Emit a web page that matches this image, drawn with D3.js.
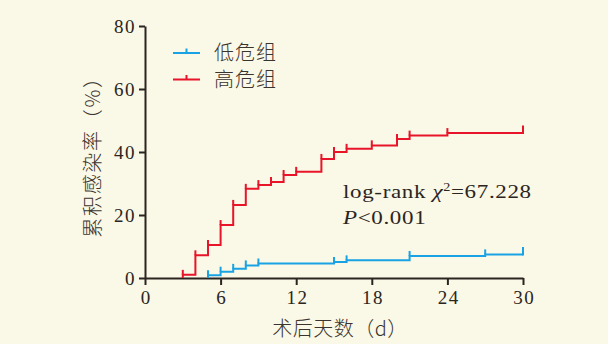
<!DOCTYPE html>
<html>
<head>
<meta charset="utf-8">
<script src="https://cdn.jsdelivr.net/npm/d3@7"></script>
<style>
  html, body { margin: 0; padding: 0; background: #faf8e6; }
  svg { display: block; }
</style>
</head>
<body>
<svg id="chart" width="608" height="344"></svg>
<script>
// Cumulative infection rate (%) by postoperative day
const lowDays   = [5, 6, 7, 8, 9, 15, 16, 21, 27];
const lowRates  = [0.9, 2.0, 2.9, 4.0, 4.6, 5.1, 5.6, 7.0, 7.5];
const highDays  = [3, 4, 5, 6, 7, 8, 9, 10, 11, 12, 14, 15, 16, 18, 20, 21, 24];
const highRates = [1.0, 7.2, 10.5, 16.8, 23.2, 28.3, 29.5, 30.5, 32.7, 33.7, 37.8, 40.0, 41.0, 42.1, 44.1, 45.2, 46.0];
const endDay = 30;

const groupNames = ["低危组", "高危组"];
const groupColors = ["#19a3e4", "#e8142a"];
const xTicks = [0, 6, 12, 18, 24, 30];
const yTicks = [0, 20, 40, 60, 80];
const xTitle = "术后天数（d）";
const yTitle = "累积感染率（%）";
const statLine1 = ["log-rank ", "χ", "2", "=67.228"];
const statLine2 = ["P", "<0.001"];

const svg = d3.select("#chart");
const axisColor = "#2b2522";
const textColor = "#3a3430";
const serif = "'Liberation Serif', 'Times New Roman', serif";
const cjk = "'Noto Sans CJK SC', sans-serif";

const x = d3.scaleLinear().domain([0, 30]).range([145, 523]);
const y = d3.scaleLinear().domain([0, 80]).range([278, 26]);

// Axes
const xAxis = svg.append("g")
  .attr("transform", `translate(0,${y(0)})`)
  .call(d3.axisBottom(x).tickValues(xTicks).tickSize(7).tickSizeOuter(0).tickPadding(6));
const yAxis = svg.append("g")
  .attr("transform", `translate(${x(0)},0)`)
  .call(d3.axisLeft(y).tickValues(yTicks).tickSize(6).tickSizeOuter(0).tickPadding(3));

[xAxis, yAxis].forEach(g => {
  g.select(".domain").attr("stroke", axisColor).attr("stroke-width", 2);
  g.selectAll(".tick line").attr("stroke", axisColor).attr("stroke-width", 2);
  g.selectAll(".tick text")
    .attr("fill", axisColor)
    .style("font-family", serif)
    .style("font-size", "19px")
    .style("letter-spacing", "1.5px");
});
xAxis.selectAll(".tick text").attr("dx", "0.75px");

// Step curves with censor ticks
function drawCurve(days, rates, color) {
  const pts = [[days[0], 0]];
  days.forEach((d, i) => pts.push([d, rates[i]]));
  pts.push([endDay, rates[rates.length - 1]]);
  const line = d3.line()
    .x(p => x(p[0]))
    .y(p => y(p[1]))
    .curve(d3.curveStepAfter);
  svg.append("path")
    .attr("d", line(pts))
    .attr("fill", "none")
    .attr("stroke", color)
    .attr("stroke-width", 2);
  svg.append("g").selectAll("line")
    .data(days.map((d, i) => [d, rates[i]]))
    .join("line")
    .attr("x1", p => x(p[0])).attr("x2", p => x(p[0]))
    .attr("y1", p => y(p[1])).attr("y2", p => y(p[1]) - 5)
    .attr("stroke", color).attr("stroke-width", 2);
  const last = rates[rates.length - 1];
  svg.append("line")
    .attr("x1", x(endDay)).attr("x2", x(endDay))
    .attr("y1", y(last) + 1).attr("y2", y(last) - 7.5)
    .attr("stroke", color).attr("stroke-width", 2);
}
drawCurve(lowDays, lowRates, groupColors[0]);
drawCurve(highDays, highRates, groupColors[1]);

// Legend
const legend = svg.append("g");
groupNames.forEach((name, i) => {
  const ly = 53 + i * 26.5;
  legend.append("line")
    .attr("x1", 173).attr("x2", 200).attr("y1", ly).attr("y2", ly)
    .attr("stroke", groupColors[i]).attr("stroke-width", 2);
  legend.append("line")
    .attr("x1", 186.5).attr("x2", 186.5).attr("y1", ly).attr("y2", ly - 4.5)
    .attr("stroke", groupColors[i]).attr("stroke-width", 2);
  legend.append("text")
    .attr("x", 214).attr("y", ly + 7)
    .attr("fill", textColor)
    .style("font-family", cjk)
    .style("font-weight", 300)
    .style("font-size", "20px")
    .style("letter-spacing", "1px")
    .text(name);
});

// Axis titles
svg.append("text")
  .attr("x", 340).attr("y", 336)
  .attr("text-anchor", "middle")
  .attr("fill", textColor)
  .style("font-family", cjk)
  .style("font-weight", 300)
  .style("font-size", "20px")
  .style("letter-spacing", "0.5px")
  .text(xTitle);

svg.append("text")
  .attr("transform", "translate(100,152) rotate(-90)")
  .attr("text-anchor", "middle")
  .attr("fill", textColor)
  .style("font-family", cjk)
  .style("font-weight", 300)
  .style("font-size", "20px")
  .style("letter-spacing", "1.7px")
  .text(yTitle);

// Test statistic (wide serif setting)
const statFont = text => text
  .attr("fill", axisColor)
  .style("font-family", serif)
  .style("font-size", "19.5px")
  .style("letter-spacing", "0.55px");

const stat1 = svg.append("text")
  .attr("transform", "translate(343,198) scale(1.18,1)")
  .call(statFont);
stat1.append("tspan").text(statLine1[0]);
stat1.append("tspan").style("font-style", "italic").text(statLine1[1]);
stat1.append("tspan").attr("dy", -7).style("font-size", "12px").text(statLine1[2]);
stat1.append("tspan").attr("dy", 7).text(statLine1[3]);

const stat2 = svg.append("text")
  .attr("transform", "translate(343,224) scale(1.18,1)")
  .call(statFont);
stat2.append("tspan").style("font-style", "italic").text(statLine2[0]);
stat2.append("tspan").text(statLine2[1]);
</script>
</body>
</html>
